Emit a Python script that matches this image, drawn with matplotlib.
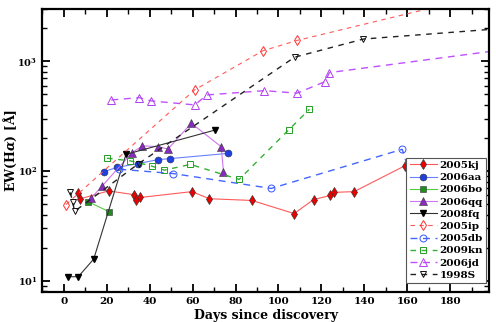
import numpy as np
import matplotlib
matplotlib.use("Agg")
import matplotlib.pyplot as plt
from matplotlib.ticker import MultipleLocator, LogLocator, NullFormatter

plt.rcParams['font.family'] = 'DejaVu Serif'
plt.rcParams['font.weight'] = 'bold'
plt.rcParams['mathtext.fontset'] = 'dejavuserif'

# solid: measured in this work
kj_t = [6.7, 7.8, 20.9, 32.6, 33.7, 35.7, 59.7, 67.8, 87.6, 107.3, 116.3, 124.2, 125.9, 135.2, 158.9]
kj_ew = [63, 56, 66, 61, 55, 57.5, 65, 56, 54, 41, 55, 60, 64, 65, 112]

aa_t = [18.8, 24.8, 34.6, 43.7, 49.6, 76.5]
aa_ew = [99, 108, 117, 127, 130, 145]

bo_t = [11.5, 21.3]
bo_ew = [52.5, 42.5]

qq_t = [12.9, 17.9, 31.8, 36.7, 43.7, 48.6, 59.4, 73.3, 74.4]
qq_ew = [57, 73, 147, 170, 167, 159, 273, 167, 99]

fq_t = [1.9, 6.8, 14.0, 29.0, 70.6]
fq_ew = [10.9, 10.9, 15.8, 142, 237]

# dashed: literature
ip_t = [1.1, 61.0, 92.7, 108.6, 200.0]
ip_ew = [49.6, 550, 1248, 1550, 4200]

db_t = [25.9, 50.9, 96.6, 157.6, 166.0]
db_ew = [104, 95, 69.5, 158, 45]

kn_t = [20.2, 31.0, 41.0, 46.8, 59.0, 81.7, 104.7, 114.4]
kn_ew = [131, 124, 111, 102, 115, 84, 237, 366]

jd_t = [22.2, 35.2, 40.8, 61.0, 66.7, 93.4, 108.6, 121.7, 123.7, 205.0]
jd_ew = [445, 467, 436, 401, 494, 541, 513, 654, 790, 1280]

s98_t = [3.1, 4.2, 5.1, 34.9, 107.5, 139.5, 205.0]
s98_ew = [64, 52, 43, 117, 1092, 1597, 2000]

fig = plt.figure(figsize=(4.96, 3.22), dpi=100)
ax = fig.add_axes([0.085, 0.093, 0.901, 0.879])

ax.plot(kj_t, kj_ew, '-', color='#ff5a5a', lw=0.8, marker='d', ms=5.5,
        mfc='#ee0000', mec='#333333', mew=0.5, label='2005kj')
ax.plot(aa_t, aa_ew, '-', color='#6a80ff', lw=0.8, marker='o', ms=5,
        mfc='#1f3fe0', mec='#333333', mew=0.4, label='2006aa')
ax.plot(bo_t, bo_ew, '-', color='#55cc44', lw=0.8, marker='s', ms=4.5,
        mfc='#1e8f1e', mec='#333333', mew=0.4, label='2006bo')
ax.plot(qq_t, qq_ew, '-', color='#cc77ee', lw=0.8, marker='^', ms=5.5,
        mfc='#8a2bbf', mec='#333333', mew=0.4, label='2006qq')
ax.plot(fq_t, fq_ew, '-', color='#333333', lw=0.8, marker='v', ms=5,
        mfc='black', mec='black', label='2008fq')

ax.plot(ip_t, ip_ew, '--', color='#ff5a5a', lw=0.8, dashes=(4, 4), marker='d', ms=5.5,
        mfc='none', mec='#ff3333', mew=0.7, label='2005ip')
ax.plot(db_t, db_ew, '--', color='#4466ff', lw=1.0, dashes=(5, 4), marker='o', ms=5,
        mfc='none', mec='#3355ff', mew=0.7, label='2005db')
ax.plot(kn_t, kn_ew, '--', color='#33b033', lw=1.0, dashes=(4, 4), marker='s', ms=4.5,
        mfc='none', mec='#22a022', mew=0.7, label='2009kn')
ax.plot(jd_t, jd_ew, '--', color='#c050ff', lw=1.0, dashes=(5, 4), marker='^', ms=5.5,
        mfc='none', mec='#b040f0', mew=0.7, label='2006jd')
ax.plot(s98_t, s98_ew, '--', color='#222222', lw=1.0, dashes=(4, 4), marker='v', ms=5,
        mfc='none', mec='#111111', mew=0.7, label='1998S')

ax.set_yscale('log')
ax.set_xlim(-10, 198)
ax.set_ylim(7.9, 3000)

ax.xaxis.set_major_locator(MultipleLocator(20))
ax.xaxis.set_minor_locator(MultipleLocator(10))
ax.yaxis.set_major_locator(LogLocator(base=10))
ax.yaxis.set_minor_locator(LogLocator(base=10, subs=np.arange(2, 10)))
ax.yaxis.set_minor_formatter(NullFormatter())

ax.tick_params(which='both', direction='in', top=True, right=True, labelsize=7.5)
ax.tick_params(axis='y', labelsize=7)
ax.tick_params(which='major', length=6, width=1.3)
ax.tick_params(which='minor', length=3.5, width=1.0)
for s in ax.spines.values():
    s.set_linewidth(1.6)

ax.set_xlabel('Days since discovery', fontsize=9, fontweight='bold', labelpad=2)
ax.set_ylabel(r'EW(H$\alpha$) [Å]', fontsize=9, fontweight='bold')
ax.yaxis.set_label_coords(-0.051, 0.5)

leg = ax.legend(loc='lower right', bbox_to_anchor=(0.994, 0.032), borderaxespad=0,
                fontsize=7.5, handlelength=2.6, labelspacing=0.28,
                borderpad=0.3, handletextpad=0.3,
                fancybox=False, framealpha=1, edgecolor='#555555')
leg.get_frame().set_linewidth(0.8)

plt.savefig('out.png', dpi=100)
plt.close(fig)
